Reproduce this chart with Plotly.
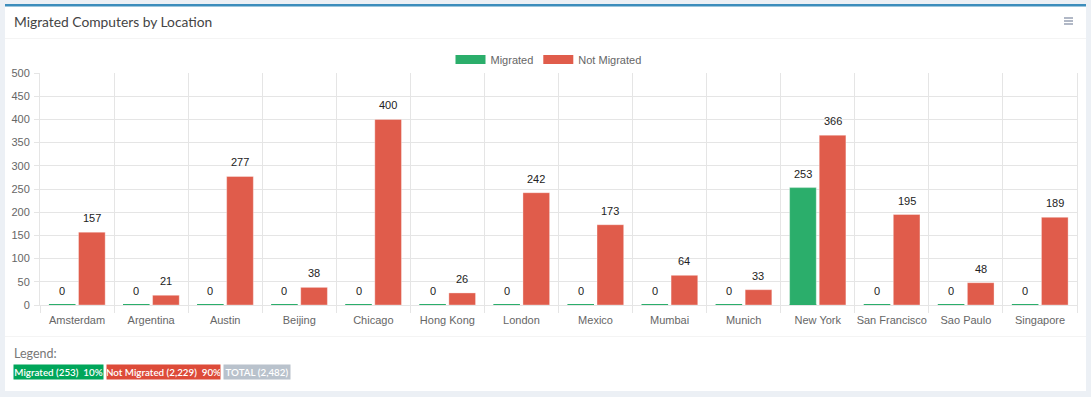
import plotly.graph_objects as go

categories = ["Amsterdam", "Argentina", "Austin", "Beijing", "Chicago", "Hong Kong", "London",
              "Mexico", "Mumbai", "Munich", "New York", "San Francisco", "Sao Paulo", "Singapore"]
migrated = [0, 0, 0, 0, 0, 0, 0, 0, 0, 0, 253, 0, 0, 0]
not_migrated = [157, 21, 277, 38, 400, 26, 242, 173, 64, 33, 366, 195, 48, 189]
y_ticks = [0, 50, 100, 150, 200, 250, 300, 350, 400, 450, 500]

GREEN = "#2bae6b"
RED = "#e05c4b"
GRID = "#e5e5e5"

W, H = 1091, 397
L, R, T, B = 40, 1077, 73, 305


def px(x):
    return (x - L) / (R - L)


def py(y):
    return (B - y) / (B - T)


idx = list(range(len(categories)))
off = 0.2

fig = go.Figure()
fig.add_trace(go.Bar(x=idx, y=migrated, name="Migrated", marker=dict(color=GREEN, line=dict(width=1, color="rgba(255,255,255,0.35)")),
                     showlegend=False, hoverinfo="y"))
fig.add_trace(go.Bar(x=idx, y=not_migrated, name="Not Migrated", marker=dict(color=RED, line=dict(width=1, color="rgba(255,255,255,0.35)")),
                     showlegend=False, hoverinfo="y"))
# minimum bar length rendering for zero values
fig.add_trace(go.Scatter(x=[i - off for i in idx], y=[0] * len(idx), mode="markers",
                         marker=dict(symbol="line-ew", size=19, line=dict(width=2, color=GREEN)),
                         showlegend=False, hoverinfo="skip", cliponaxis=False))
# legend swatches
fig.add_trace(go.Scatter(x=[None], y=[None], mode="lines", name="Migrated", line=dict(color=GREEN, width=9)))
fig.add_trace(go.Scatter(x=[None], y=[None], mode="lines", name="Not Migrated", line=dict(color=RED, width=9)))

annotations = []
for i in idx:
    for series, sgn in ((migrated, -1), (not_migrated, 1)):
        annotations.append(dict(x=i + sgn * off, y=series[i], xref="x", yref="y", text=str(series[i]),
                                showarrow=False, yanchor="middle", yshift=14,
                                font=dict(family="Liberation Sans, Arial", size=11, color="#222222")))

# title
annotations.append(dict(x=px(12), y=py(21), xref="paper", yref="paper", xanchor="left", yanchor="middle",
                        text="Migrated Computers by Location", showarrow=False,
                        font=dict(family="Lato", size=13.8, color="#444")))
annotations.append(dict(x=px(12), y=py(353), xref="paper", yref="paper", xanchor="left", yanchor="middle",
                        text="Legend:", showarrow=False, font=dict(family="Lato", size=12.5, color="#777")))

tm = sum(migrated)
tn = sum(not_migrated)
tot = tm + tn
badges = [
    (f"Migrated ({tm:,})&nbsp; {round(100 * tm / tot)}%", "#00a65a", 13, 102),
    (f"Not Migrated ({tn:,})&nbsp; {round(100 * tn / tot)}%", "#dd4b39", 106, 219),
    (f"TOTAL ({tot:,})", "#b9c2cc", 223, 289),
]
for text, col, x0, x1 in badges:
    annotations.append(dict(x=px(x0), y=py(372), xref="paper", yref="paper", xanchor="left", yanchor="middle",
                            text=text, showarrow=False, bgcolor=col, width=x1 - x0, height=14, borderpad=0,
                            align="center", valign="middle",
                            font=dict(family="Lato", size=9.8, color="white", weight=600)))

shapes = [
    # card
    dict(type="rect", xref="paper", yref="paper", x0=px(5), x1=px(1086), y0=py(391), y1=py(4),
         fillcolor="white", line=dict(width=0), layer="below"),
    dict(type="rect", xref="paper", yref="paper", x0=px(5), x1=px(1086), y0=py(6.5), y1=py(4),
         fillcolor="#3c8dbc", line=dict(width=0), layer="below"),
    dict(type="line", xref="paper", yref="paper", x0=px(5), x1=px(1086), y0=py(38.5), y1=py(38.5),
         line=dict(color="#f4f4f4", width=1), layer="below"),
    dict(type="line", xref="paper", yref="paper", x0=px(5), x1=px(1086), y0=py(336.5), y1=py(336.5),
         line=dict(color="#f4f4f4", width=1), layer="below"),
]
for yy in (18, 21, 24):
    shapes.append(dict(type="line", xref="paper", yref="paper", x0=px(1064), x1=px(1073), y0=py(yy), y1=py(yy),
                       line=dict(color="#97a0b3", width=1.5)))

fig.update_layout(
    width=W, height=H,
    margin=dict(l=L, r=W - R, t=T, b=H - B, pad=0),
    paper_bgcolor="#ecf0f5",
    plot_bgcolor="rgba(0,0,0,0)",
    barmode="group", bargap=0.2, bargroupgap=0.1,
    showlegend=True,
    legend=dict(orientation="h", x=0.5 - 10 / (R - L), xanchor="center", y=py(59.5), yanchor="middle",
                font=dict(family="Liberation Sans, Arial", size=11, color="#666"),
                itemwidth=30, bgcolor="rgba(0,0,0,0)", tracegroupgap=0),
    annotations=annotations,
    shapes=shapes,
    xaxis=dict(range=[-0.5, len(categories) - 0.5], tickmode="array", tickvals=idx, ticktext=categories,
               showgrid=False, zeroline=False, ticks="", ticklabelstandoff=5,
               showline=True, linecolor=GRID, linewidth=1,
               tickfont=dict(family="Liberation Sans, Arial", size=11, color="#666"),
               minor=dict(tickmode="linear", tick0=-0.5, dtick=1, showgrid=True, gridcolor=GRID,
                          ticks="outside", ticklen=7, tickcolor=GRID, gridwidth=1),
               fixedrange=True),
    yaxis=dict(range=[0, 500], tickmode="array", tickvals=y_ticks, showgrid=True, gridcolor=GRID,
               zeroline=False, ticks="outside", ticklen=5, tickcolor=GRID, showline=True, linecolor=GRID,
               mirror=True, tickfont=dict(family="Liberation Sans, Arial", size=11, color="#666"),
               ticklabelstandoff=2, fixedrange=True),
)

fig.write_html("out.html", config={"displayModeBar": False},
               post_script="document.body.style.margin='0';document.body.style.overflow='hidden';")
